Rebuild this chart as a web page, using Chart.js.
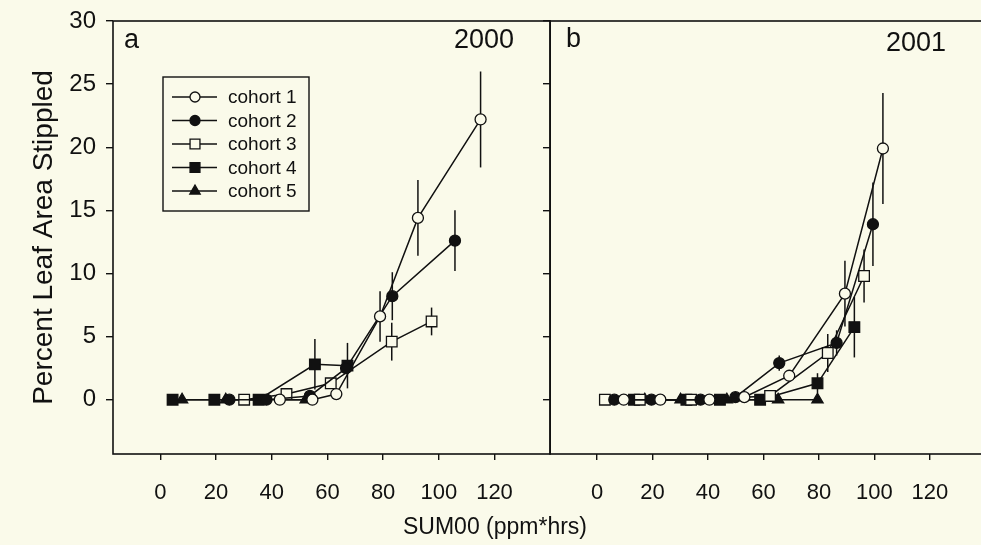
<!DOCTYPE html>
<html lang="en">
<head>
<meta charset="UTF-8">
<title>Leaf area stippled</title>
<script src="https://cdn.jsdelivr.net/npm/chart.js"></script>
<style>
  html, body { margin: 0; padding: 0; background: #fafaea; overflow: hidden; }
  body { width: 981px; height: 545px; position: relative; font-family: "Liberation Sans", Arial, sans-serif; }
  canvas { position: absolute; top: 0; }
  #xTitle { position: absolute; top: 513px; left: 495px; transform: translateX(-50%);
            font-size: 23px; color: #111; white-space: nowrap; }
</style>
</head>
<body>
<canvas id="grafA" width="559" height="545" style="left:0px"></canvas>
<canvas id="grafB" width="459" height="545" style="left:535px"></canvas>
<div id="xTitle">SUM00 (ppm*hrs)</div>

<script>
// ---- dados ----
const cohortLabels = ['cohort 1', 'cohort 2', 'cohort 3', 'cohort 4', 'cohort 5'];
const xTicks = [0, 20, 40, 60, 80, 100, 120];
const yTicks = [0, 5, 10, 15, 20, 25, 30];

// painel a - 2000
const a1x = [42.9, 54.6, 63.2, 78.9, 92.5, 115.0];
const a1y = [0, 0, 0.45, 6.6, 14.4, 22.2];
const a1e = [null, null, null, 2.0, 3.0, 3.8];
const a2x = [24.8, 38.1, 53.7, 66.7, 83.3, 105.8];
const a2y = [0, 0, 0.3, 2.5, 8.2, 12.6];
const a2e = [null, null, null, null, 1.9, 2.4];
const a3x = [30.1, 45.3, 61.2, 83.1, 97.4];
const a3y = [0, 0.45, 1.3, 4.6, 6.2];
const a3e = [null, null, null, 1.5, 1.1];
const a4x = [4.4, 19.4, 35.3, 55.5, 67.2];
const a4y = [0, 0, 0, 2.8, 2.7];
const a4e = [null, null, null, 2.0, 1.8];
const a5x = [7.8, 23.5, 52.2];
const a5y = [0, 0, 0];
const a5e = [null, null, null];

// painel b - 2001
const b1x = [9.6, 22.8, 40.5, 53.1, 69.3, 89.4, 103.1];
const b1y = [0, 0, 0, 0.2, 1.9, 8.4, 19.9];
const b1e = [null, null, null, null, null, 2.6, 4.4];
const b2x = [6.2, 19.6, 37.3, 49.9, 65.7, 86.4, 99.5];
const b2y = [0, 0, 0, 0.2, 2.9, 4.5, 13.9];
const b2e = [null, null, null, null, 0.6, 1.0, 3.3];
const b3x = [2.8, 15.4, 33.9, 62.4, 83.2, 96.3];
const b3y = [0, 0, 0, 0.3, 3.7, 9.8];
const b3e = [null, null, null, null, 1.5, 2.1];
const b4x = [13.3, 32.2, 44.3, 58.8, 79.5, 92.8];
const b4y = [0, 0, 0, 0, 1.3, 5.75];
const b4e = [null, null, null, null, 0.8, 2.4];
const b5x = [17.2, 30.1, 46.8, 65.3, 79.5];
const b5y = [0, 0, 0, 0, 0];
const b5e = [null, null, null, null, null];

// ---- estilo ----
const fundo = '#fafaea';
const tinta = '#111';
const fonte = '"Liberation Sans", Arial, sans-serif';
const estilos = ['circle', 'circle', 'rect', 'rect', 'triangle'];
const raios = [5.5, 5.5, 7.5, 7.5, 6.5];
const cheio = [false, true, false, true, true];

function serie(xs, ys, errs, i) {
    return {
        label: cohortLabels[i],
        data: xs.map((x, k) => ({ x: x, y: ys[k] })),
        errors: errs,
        showLine: true,
        borderColor: tinta,
        borderWidth: 1.5,
        pointStyle: estilos[i],
        pointRadius: raios[i],
        pointHoverRadius: raios[i],
        pointBackgroundColor: cheio[i] ? tinta : fundo,
        pointBorderColor: tinta,
        pointBorderWidth: 1.3
    };
}

// barras de erro verticais, desenhadas antes dos pontos
const errorBars = {
    id: 'errorBars',
    beforeDatasetsDraw(chart) {
        const ctx = chart.ctx, sx = chart.scales.x, sy = chart.scales.y;
        ctx.save();
        ctx.strokeStyle = tinta;
        ctx.lineWidth = 1.5;
        chart.data.datasets.forEach(ds => {
            (ds.errors || []).forEach((e, i) => {
                if (e == null) return;
                const p = ds.data[i];
                const x = sx.getPixelForValue(p.x);
                ctx.beginPath();
                ctx.moveTo(x, sy.getPixelForValue(p.y - e));
                ctx.lineTo(x, sy.getPixelForValue(p.y + e));
                ctx.stroke();
            });
        });
        ctx.restore();
    }
};

// moldura + letra do painel + ano
const painel = {
    id: 'painel',
    afterDraw(chart, args, opts) {
        const ctx = chart.ctx, a = chart.chartArea;
        ctx.save();
        ctx.strokeStyle = tinta;
        ctx.lineWidth = 1.6;
        ctx.strokeRect(a.left, a.top, a.right - a.left, a.bottom - a.top);
        ctx.fillStyle = tinta;
        ctx.font = '27px ' + fonte;
        ctx.textBaseline = 'alphabetic';
        ctx.textAlign = 'left';
        ctx.fillText(opts.letra, a.left + opts.letraDx, opts.baseY);
        ctx.textAlign = 'right';
        ctx.fillText(opts.ano, a.left + opts.anoDx, opts.baseY + opts.anoDy);
        ctx.restore();
    }
};

// legenda em caixa (so painel a)
const legendaCaixa = {
    id: 'legendaCaixa',
    afterDraw(chart, args, opts) {
        if (!opts.mostrar) return;
        const ctx = chart.ctx;
        ctx.save();
        ctx.strokeStyle = tinta;
        ctx.lineWidth = 1.4;
        ctx.fillStyle = fundo;
        ctx.fillRect(163, 77, 146, 134);
        ctx.strokeRect(163, 77, 146, 134);
        chart.data.datasets.forEach((ds, i) => {
            const y = 97 + i * 23.5;
            ctx.strokeStyle = tinta;
            ctx.lineWidth = 1.5;
            ctx.beginPath();
            ctx.moveTo(172, y);
            ctx.lineTo(217, y);
            ctx.stroke();
            ctx.fillStyle = ds.pointBackgroundColor;
            ctx.lineWidth = 1.3;
            Chart.helpers.drawPoint(ctx, { pointStyle: ds.pointStyle, radius: ds.pointRadius - 0.5, rotation: 0, borderWidth: 1.3 }, 195, y);
            ctx.fillStyle = tinta;
            ctx.font = '19px ' + fonte;
            ctx.textAlign = 'left';
            ctx.textBaseline = 'middle';
            ctx.fillText(ds.label, 228, y + 1);
        });
        ctx.restore();
    }
};

function escalas(comRotulos) {
    return {
        x: {
            type: 'linear',
            min: -17,
            max: 140,
            afterBuildTicks: s => { s.ticks = xTicks.map(v => ({ value: v })); },
            afterFit: s => { s.height = 91; s.paddingLeft = 0; s.paddingRight = 0; },
            grid: { drawOnChartArea: false, drawTicks: true, tickLength: 6, color: tinta, lineWidth: 1.4 },
            border: { display: false },
            ticks: { color: tinta, padding: 20, font: { family: fonte, size: 22 }, maxRotation: 0 }
        },
        y: {
            type: 'linear',
            min: -4.3,
            max: 30,
            afterBuildTicks: s => { s.ticks = yTicks.map(v => ({ value: v })); },
            afterFit: s => { s.width = comRotulos ? 113 : 15; s.paddingTop = 0; s.paddingBottom = 0; },
            grid: { drawOnChartArea: false, drawTicks: true, tickLength: 7, color: tinta, lineWidth: 1.4 },
            border: { display: false },
            ticks: { display: comRotulos, color: tinta, padding: 10, font: { family: fonte, size: 24 } },
            title: {
                display: comRotulos,
                text: 'Percent Leaf Area Stippled',
                color: tinta,
                font: { family: fonte, size: 28 },
                padding: { top: 27, bottom: 0 }
            }
        }
    };
}

function opcoes(comRotulos, painelOpts, padRight) {
    return {
        responsive: false,
        animation: false,
        layout: { padding: { top: 21, right: padRight, left: 0, bottom: 0 } },
        scales: escalas(comRotulos),
        plugins: {
            legend: { display: false },
            tooltip: { enabled: false },
            painel: painelOpts,
            legendaCaixa: { mostrar: comRotulos }
        }
    };
}

new Chart(document.getElementById('grafA'), {
    type: 'scatter',
    data: {
        datasets: [
            serie(a1x, a1y, a1e, 0),
            serie(a2x, a2y, a2e, 1),
            serie(a3x, a3y, a3e, 2),
            serie(a4x, a4y, a4e, 3),
            serie(a5x, a5y, a5e, 4)
        ]
    },
    options: opcoes(true, { letra: 'a', ano: '2000', letraDx: 11, anoDx: 401, anoDy: 0, baseY: 48 }, 0),
    plugins: [errorBars, painel, legendaCaixa]
});

new Chart(document.getElementById('grafB'), {
    type: 'scatter',
    data: {
        datasets: [
            serie(b1x, b1y, b1e, 0),
            serie(b2x, b2y, b2e, 1),
            serie(b3x, b3y, b3e, 2),
            serie(b4x, b4y, b4e, 3),
            serie(b5x, b5y, b5e, 4)
        ]
    },
    options: opcoes(false, { letra: 'b', ano: '2001', letraDx: 16, anoDx: 396, anoDy: 4, baseY: 47 }, 4),
    plugins: [errorBars, painel, legendaCaixa]
});
</script>
</body>
</html>
